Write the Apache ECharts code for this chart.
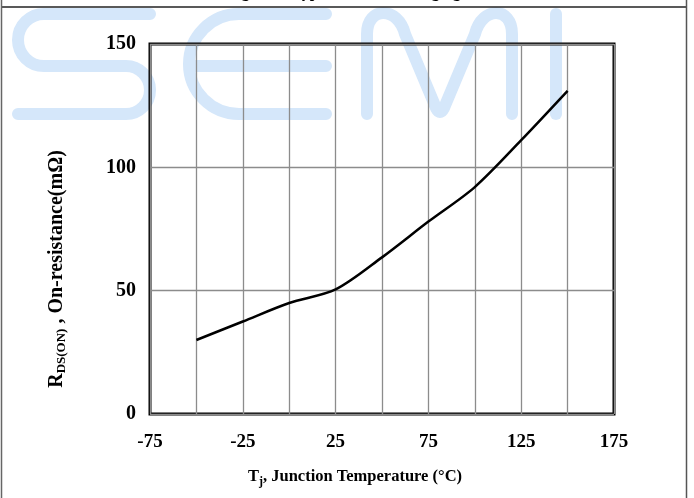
<!DOCTYPE html>
<html>
<head>
<meta charset="utf-8">
<script src="https://cdn.jsdelivr.net/npm/echarts@6/dist/echarts.min.js"></script>
<style>
  html, body { margin: 0; padding: 0; background: #fff; }
  #chart { width: 694px; height: 498px; }
</style>
</head>
<body>
<div id="chart"></div>
<script>
// Tj (°C) and RDS(ON) (mΩ)
const tempC = [-50, -25, 0, 25, 50, 75, 100, 125, 150]
const rdsOn = [30, 37.5, 45, 50.5, 63.5, 78, 92, 111, 131]
const xTicks = [-75, -25, 25, 75, 125, 175]
const yTicks = [0, 50, 100, 150]

const serif = '"Liberation Serif", "Times New Roman", serif'
const wmColor = '#d5e7fa'

// watermark letters as svg paths
const wmPaths = {
  wmS: 'M150 14 L44 14 A26 26 0 0 0 44 66 L126 66 A24 24 0 0 1 126 114 L18 114',
  wmE: 'M326 14 L239 14 A50 50 0 0 0 239 114 L326 114 M189 66 L326 66',
  wmM: 'M367 114 L367 34 C367 6 398 6 405 34 L436 108 Q440 116 444 108 L475 34 C482 6 512 6 512 34 L512 114',
  wmI: 'M556 14 L556 114'
}
Object.keys(wmPaths).forEach(k => {
  echarts.graphic.registerShape(k, echarts.graphic.extendPath(wmPaths[k], {}))
})

const chart = echarts.init(document.getElementById('chart'))

const watermark = Object.keys(wmPaths).map(k => ({
  type: k,
  z: -10,
  shape: {},
  style: { fill: null, stroke: wmColor, lineWidth: 12, lineCap: 'round', lineJoin: 'round' }
}))

const option = {
  animation: false,
  backgroundColor: '#fff',
  grid: {
    left: 150,
    right: 80,
    top: 44,
    bottom: 84,
    show: true,
    borderColor: '#000',
    borderWidth: 3
  },
  xAxis: {
    type: 'value',
    min: -75,
    max: 175,
    interval: 25,
    axisLine: { show: false },
    axisTick: { show: false },
    axisLabel: {
      margin: 19,
      color: '#000',
      fontFamily: serif,
      fontWeight: 'bold',
      fontSize: 19,
      formatter: v => (xTicks.indexOf(v) >= 0 ? String(v) : '')
    },
    splitLine: { lineStyle: { color: '#8c8c8c', width: 1.3 } }
  },
  yAxis: {
    type: 'value',
    min: 0,
    max: 150,
    interval: 50,
    axisLine: { show: false },
    axisTick: { show: false },
    axisLabel: {
      margin: 14,
      color: '#000',
      fontFamily: serif,
      fontWeight: 'bold',
      fontSize: 20,
      formatter: v => (yTicks.indexOf(v) >= 0 ? String(v) : '')
    },
    splitLine: { lineStyle: { color: '#8c8c8c', width: 1.3 } }
  },
  graphic: watermark.concat([
    // frame
    { type: 'line', shape: { x1: 2, y1: 7, x2: 686, y2: 7 }, style: { stroke: '#222', lineWidth: 1.5 } },
    { type: 'line', shape: { x1: 1.5, y1: 0, x2: 1.5, y2: 498 }, style: { stroke: '#666', lineWidth: 1.5 } },
    { type: 'line', shape: { x1: 686.5, y1: 0, x2: 686.5, y2: 498 }, style: { stroke: '#555', lineWidth: 1.5 } },
    // cut-off title
    {
      type: 'text',
      x: 344,
      y: 1,
      style: {
        text: 'Figure 8. Typical Rdson Changing',
        fill: '#000',
        font: 'bold 16px ' + serif,
        align: 'center',
        verticalAlign: 'bottom'
      }
    },
    // axis titles
    {
      type: 'text',
      x: 355,
      y: 477,
      style: {
        text: '{m|T}{s|j}{m|, Junction Temperature (°C)}',
        align: 'center',
        verticalAlign: 'middle',
        rich: {
          m: { fontFamily: serif, fontWeight: 'bold', fontSize: 16.5, color: '#000', lineHeight: 22 },
          s: { fontFamily: serif, fontWeight: 'bold', fontSize: 12, color: '#000', lineHeight: 12, padding: [10, 0, 0, 0] }
        }
      }
    },
    {
      type: 'text',
      x: 57,
      y: 269,
      rotation: Math.PI / 2,
      style: {
        text: '{m|R}{s|DS(ON)}{m| , On-resistance(mΩ)}',
        align: 'center',
        verticalAlign: 'middle',
        rich: {
          m: { fontFamily: serif, fontWeight: 'bold', fontSize: 20, color: '#000', lineHeight: 24 },
          s: { fontFamily: serif, fontWeight: 'bold', fontSize: 13, color: '#000', lineHeight: 13, padding: [10, 0, 0, 0] }
        }
      }
    }
  ]),
  series: [
    {
      type: 'line',
      data: tempC.map((t, i) => [t, rdsOn[i]]),
      smooth: 0.3,
      showSymbol: false,
      lineStyle: { color: '#000', width: 2.5 },
      z: 5
    }
  ]
}

chart.setOption(option)
window.addEventListener('resize', () => { chart.resize() })
</script>
</body>
</html>
